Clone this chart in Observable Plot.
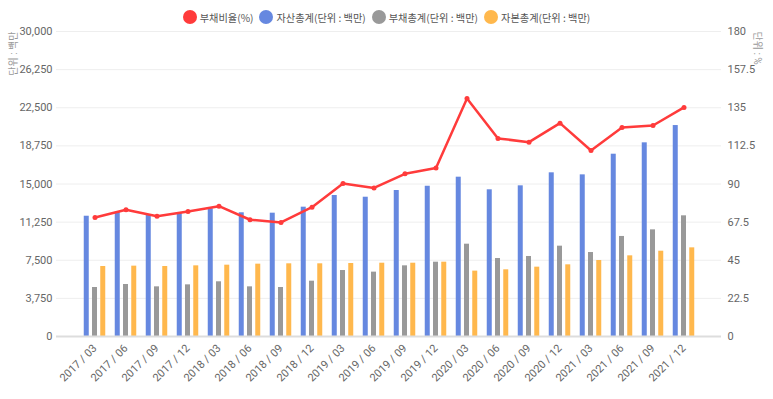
<!DOCTYPE html>
<html><head><meta charset="utf-8">
<script src="https://cdn.jsdelivr.net/npm/d3@7"></script>
<script src="https://cdn.jsdelivr.net/npm/@observablehq/plot@0.6"></script>
<style>
body{margin:0;background:#fff;font-family:Roboto,"Noto Sans CJK KR",sans-serif;}
#legend{height:14px;padding-top:10px;display:flex;justify-content:center;align-items:center;font-family:"Noto Sans CJK KR",Roboto,sans-serif;font-size:10.2px;color:#555;}
.item{display:flex;align-items:center;margin:0 3px;}
.sw{width:14px;height:14px;border-radius:50%;margin-right:3px;}
</style></head><body>
<div id="legend"></div>
<div id="chart"></div>
<script>
const dates = ["2017 / 03","2017 / 06","2017 / 09","2017 / 12","2018 / 03","2018 / 06","2018 / 09","2018 / 12","2019 / 03","2019 / 06","2019 / 09","2019 / 12","2020 / 03","2020 / 06","2020 / 09","2020 / 12","2021 / 03","2021 / 06","2021 / 09","2021 / 12"];
const assets = [11830,12230,11970,12170,12560,12170,12130,12720,13870,13700,14360,14780,15670,14430,14820,16100,15900,17930,19050,20750];
const liabilities = [4820,5115,4885,5080,5380,4885,4820,5440,6490,6330,6950,7310,9080,7670,7870,8885,8260,9840,10490,11870];
const equity = [6885,6920,6885,6950,7015,7115,7150,7150,7180,7210,7210,7310,6430,6560,6820,7050,7475,7935,8390,8720];
const ratios = [70.2,74.8,71.0,73.8,76.9,68.9,67.3,76.3,90.3,87.7,96.0,99.5,140.5,116.9,114.7,125.9,109.8,123.4,124.5,135.2];
const leftTicks = [0,3750,7500,11250,15000,18750,22500,26250,30000];
const rightTicks = [0,22.5,45,67.5,90,112.5,135,157.5,180];
const seriesNames = ["부채비율(%)","자산총계(단위 : 백만)","부채총계(단위 : 백만)","자본총계(단위 : 백만)"];
const seriesColors = ["#ff3b3b","#6688e0","#999999","#ffb84d"];
const leftTitle = "단위 : 백만";
const rightTitle = "단위 : %";

const legend = document.getElementById("legend");
seriesNames.forEach((n,i)=>{
  const it = document.createElement("div"); it.className="item";
  const sw = document.createElement("span"); sw.className="sw"; sw.style.background=seriesColors[i];
  const t = document.createElement("span"); t.textContent=n;
  it.appendChild(sw); it.appendChild(t); legend.appendChild(it);
});

const data = dates.map((d,i)=>({date:d, asset:assets[i], liab:liabilities[i], eq:equity[i], ratio:ratios[i]}));
const k = 30000/180;

const chart = Plot.plot({
  width:773, height:375, marginTop:7, marginBottom:63, marginLeft:56, marginRight:52,
  style:{fontFamily:'Roboto,"Noto Sans CJK KR",sans-serif', fontSize:"11px", color:"#666", background:"#fff"},
  x:{type:"band", domain:dates, padding:0, insetLeft:17.5, insetRight:17.5, label:null},
  y:{domain:[0,30000], label:null},
  marks:[
    Plot.ruleY(leftTicks.slice(1), {stroke:"#eeeeee"}),
    Plot.barY(data,{x:"date", y:"asset", fill:seriesColors[1], insetLeft:4.75, insetRight:21.25}),
    Plot.barY(data,{x:"date", y:"liab", fill:seriesColors[2], insetLeft:13, insetRight:13}),
    Plot.barY(data,{x:"date", y:"eq", fill:seriesColors[3], insetLeft:21.25, insetRight:4.75}),
    Plot.ruleY([0],{stroke:"#dddddd", strokeWidth:2}),
    Plot.line(data,{x:"date", y:d=>d.ratio*k, stroke:seriesColors[0], strokeWidth:2.5}),
    Plot.dot(data,{x:"date", y:d=>d.ratio*k, r:2.5, fill:seriesColors[0]}),
    Plot.axisY(leftTicks,{anchor:"left", tickSize:0, tickPadding:4, tickFormat:d3.format(","), label:null}),
    Plot.axisY(rightTicks.map(v=>v*k),{anchor:"right", tickSize:0, tickPadding:6, tickFormat:d=>String(Math.round(d/k*10)/10), label:null}),
    Plot.axisX({tickRotate:-45, tickSize:0, tickPadding:10, label:null}),
    Plot.text([leftTitle],{text:d=>d, frameAnchor:"top-left", rotate:-90, dx:-47, textAnchor:"end", fontSize:10, fill:"#999"}),
    Plot.text([rightTitle],{text:d=>d, frameAnchor:"top-right", rotate:90, dx:40, textAnchor:"start", fontSize:10, fill:"#999"})
  ]
});
document.getElementById("chart").appendChild(chart);
</script>
</body></html>
